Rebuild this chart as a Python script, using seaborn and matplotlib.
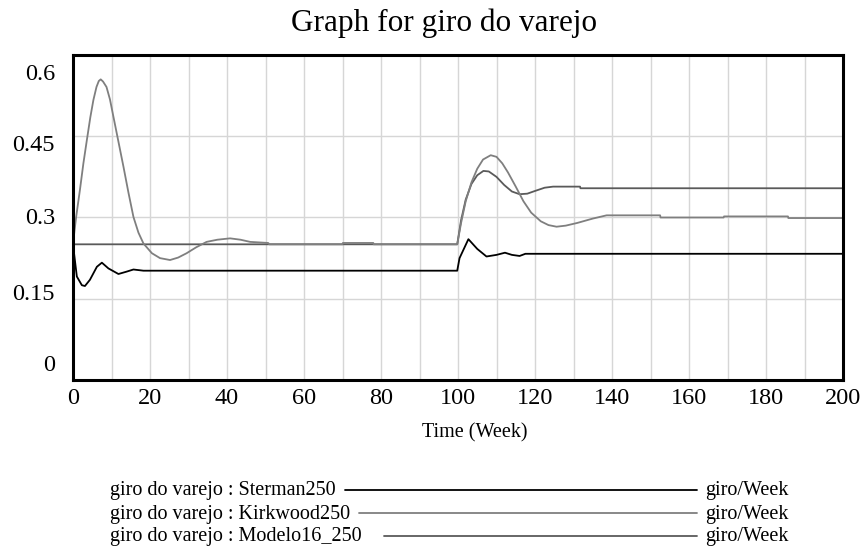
import numpy as np
import pandas as pd
import matplotlib
matplotlib.use("Agg")
import matplotlib.pyplot as plt
import matplotlib.transforms as mtransforms
from matplotlib.lines import Line2D
import seaborn as sns

# Values (Time in weeks, giro/Week)
sterman_t = [0, 1, 2.3, 3.1, 4.4, 6.2, 7.5, 9.2, 11.8, 13.9, 15.7, 18.3, 99.8,
             100.4, 102.7, 105, 107.4, 110, 112.2, 114, 116, 117.5, 200]
sterman_v = [0.25, 0.191, 0.175, 0.1735, 0.185, 0.209, 0.2166, 0.206, 0.1957, 0.2, 0.204, 0.2018, 0.2018,
             0.225, 0.26, 0.242, 0.228, 0.231, 0.235, 0.231, 0.229, 0.233, 0.233]

kirkwood_t = [0, 0.8, 1.8, 2.7, 3.6, 4.5, 5.3, 6.1, 6.7, 7.2, 7.8, 8.7, 9.6, 10.5, 11.8, 13.1, 14.4,
              15.7, 17, 18.3, 20.5, 22.6, 25.2, 27.3, 29.5, 32, 34.7, 37.5, 40.8, 43.5, 46, 50.7, 51,
              70, 70.1, 78, 78.1, 99.8, 100.8, 102, 103.5, 105, 106.5, 108.5, 110, 111.5, 113, 115,
              117, 119, 121.5, 123.5, 125.6, 128, 131, 135, 138.6, 152.5, 152.6, 169, 169.1, 185.7,
              185.8, 200]
kirkwood_v = [0.252, 0.3, 0.351, 0.4, 0.443, 0.485, 0.517, 0.541, 0.552, 0.555, 0.551, 0.541, 0.518,
              0.486, 0.44, 0.394, 0.346, 0.301, 0.272, 0.252, 0.234, 0.225, 0.2215, 0.226, 0.234, 0.245,
              0.255, 0.259, 0.2615, 0.259, 0.255, 0.253, 0.2505, 0.2505, 0.253, 0.253, 0.2505, 0.2505,
              0.29, 0.33, 0.365, 0.39, 0.407, 0.415, 0.412, 0.4, 0.383, 0.357, 0.33, 0.309, 0.293,
              0.286, 0.283, 0.285, 0.29, 0.298, 0.304, 0.304, 0.3, 0.3, 0.302, 0.302, 0.299, 0.299]

modelo_t = [0, 99.8, 100.8, 102, 103.5, 105, 106.6, 108, 110, 112, 114, 116, 118, 120, 122.5,
            124.7, 131.7, 131.8, 200]
modelo_v = [0.2505, 0.2505, 0.295, 0.333, 0.362, 0.378, 0.386, 0.385, 0.375, 0.36, 0.348, 0.343,
            0.344, 0.349, 0.355, 0.357, 0.357, 0.354, 0.354]

series_names = ["Sterman250", "Kirkwood250", "Modelo16_250"]
series_colors = ["#000000", "#7f7f7f", "#5a5a5a"]

frames = []
for name, t, v in zip(series_names, [sterman_t, kirkwood_t, modelo_t], [sterman_v, kirkwood_v, modelo_v]):
    frames.append(pd.DataFrame({"Time": t, "giro": v, "run": name}))
df = pd.concat(frames, ignore_index=True)

sns.set_theme(style="white")
plt.rcParams["font.family"] = ["Liberation Serif", "DejaVu Serif"]
plt.rcParams["text.color"] = "black"

fig = plt.figure(figsize=(8.67, 5.53), dpi=100)
ax = fig.add_axes([73 / 867, 1 - 380 / 553, 770 / 867, 325 / 553])

sns.lineplot(data=df, x="Time", y="giro", hue="run", palette=dict(zip(series_names, series_colors)),
             hue_order=series_names[::-1], linewidth=1.3, ax=ax, legend=False, sort=False,
             estimator=None)

ax.set_xlim(0, 200)
ax.set_ylim(0, 0.6)
ax.set_xticks(range(0, 201, 20))
ax.set_xticks(range(10, 200, 20), minor=True)
ax.set_yticks([0, 0.15, 0.3, 0.45, 0.6])
ax.set_yticklabels(["0", "0.15", "0.3", "0.45", "0.6"])
ax.grid(True, which="both", color="#d6d6d6", linewidth=1.0)
ax.tick_params(axis="both", which="both", length=0, labelsize=17.5, colors="black")
ax.tick_params(axis="x", pad=6)
ax.tick_params(axis="y", pad=13)
ax.set_xlabel("")
ax.set_ylabel("")
for sp in ax.spines.values():
    sp.set_visible(True)
    sp.set_color("black")
    sp.set_linewidth(2.2)

# Vensim places the y labels pulled in toward the middle of the axis
offsets_px = [17, 7, 1, -7, -17]
for lab, off in zip(ax.get_yticklabels(), offsets_px):
    lab.set_transform(lab.get_transform() + mtransforms.ScaledTranslation(0, off / 100, fig.dpi_scale_trans))

fig.text(444 / 867, 1 - 23 / 553, "Graph for giro do varejo", ha="center", va="center", fontsize=22.5)
fig.text(475 / 867, 1 - 433 / 553, "Time (Week)", ha="center", va="center", fontsize=14.5)

# legend block under the chart
leg_y = [491, 514, 537]
name_end = [340, 354, 379]
for name, col, y, xe in zip(series_names, series_colors, leg_y, name_end):
    fig.text(110 / 867, 1 - y / 553, "giro do varejo : " + name, ha="left", va="center", fontsize=14.5)
    fig.add_artist(Line2D([(xe + 5) / 867, 697 / 867], [1 - (y - 1) / 553, 1 - (y - 1) / 553],
                          color=col, linewidth=1.3, transform=fig.transFigure))
    fig.text(705 / 867, 1 - y / 553, "giro/Week", ha="left", va="center", fontsize=14.5)

fig.savefig("out.png", dpi=100)
